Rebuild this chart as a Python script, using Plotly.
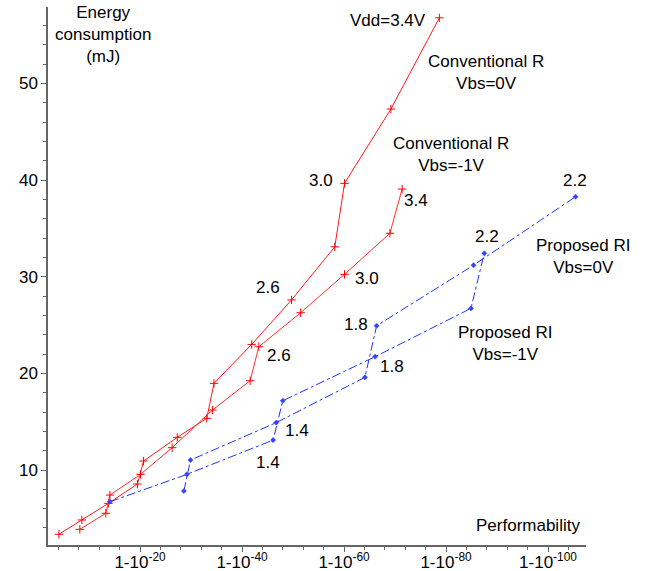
import plotly.graph_objects as go

# x = magnitude of exponent n in performability 1-10^-n ; y = energy (mJ)
conv0_x = [4.1, 8.6, 13.8, 19.5, 20.7, 27.3, 33.1, 34.5, 41.9, 49.7, 58.2, 60.1, 69.2, 78.7]
conv0_y = [3.35, 4.83, 6.55, 8.55, 10.93, 13.38, 15.35, 18.97, 23.0, 27.6, 33.1, 39.67, 47.36, 56.8]

conv1_x = [8.2, 13.3, 14.1, 20.1, 26.3, 34.2, 41.6, 43.3, 51.5, 60.1, 69.0, 71.4]
conv1_y = [3.86, 5.52, 7.41, 9.55, 12.31, 16.21, 19.24, 22.76, 26.28, 30.25, 34.5, 39.08]

prop0_x = [28.6, 29.9, 46.7, 64.1, 66.4, 85.4, 105.4]
prop0_y = [7.83, 11.03, 14.9, 19.59, 24.93, 31.2, 38.28]

prop1_x = [14.1, 29.2, 46.1, 48.0, 66.1, 84.9, 87.5]
prop1_y = [6.72, 9.55, 13.1, 17.17, 21.73, 26.73, 32.43]

x_tickvals = [20, 40, 60, 80, 100]
x_ticktext = ["1-10<sup>-20</sup>", "1-10<sup>-40</sup>", "1-10<sup>-60</sup>",
              "1-10<sup>-80</sup>", "1-10<sup>-100</sup>"]
y_tickvals = [10, 20, 30, 40, 50]

FONT = "Liberation Sans, Arial, Helvetica, sans-serif"
fig = go.Figure()

red_marker = dict(symbol="cross-thin", size=6, color="red", line=dict(color="red", width=1))
blue_marker = dict(symbol="diamond", size=4, color="#3344ff", line=dict(color="#3344ff", width=0.5))

fig.add_trace(go.Scatter(x=conv0_x, y=conv0_y, mode="lines+markers",
                         line=dict(color="#ff1a1a", width=1), marker=red_marker))
fig.add_trace(go.Scatter(x=conv1_x, y=conv1_y, mode="lines+markers",
                         line=dict(color="#ff3030", width=1), marker=red_marker))
fig.add_trace(go.Scatter(x=prop0_x, y=prop0_y, mode="lines+markers",
                         line=dict(color="#2233ff", width=1, dash="dashdot"), marker=blue_marker))
fig.add_trace(go.Scatter(x=prop1_x, y=prop1_y, mode="lines+markers",
                         line=dict(color="#2233ff", width=1, dash="dashdot"), marker=blue_marker))

labels = [
    ("Energy<br>consumption<br>(mJ)", 12.75, 55.1, "center"),
    ("Vdd=3.4V", 76.5, 56.57, "right"),
    ("Conventional R<br>Vbs=0V", 87.8, 51.14, "center"),
    ("Conventional R<br>Vbs=-1V", 81.0, 42.7, "center"),
    ("Proposed RI<br>Vbs=0V", 106.9, 32.15, "center"),
    ("Proposed RI<br>Vbs=-1V", 91.6, 23.09, "center"),
    ("Performability", 96.1, 4.31, "center"),
    ("3.0", 55.4, 40.0, "center"),
    ("2.6", 45.1, 28.84, "center"),
    ("3.0", 64.5, 29.87, "center"),
    ("2.6", 47.3, 21.9, "center"),
    ("3.4", 74.1, 37.94, "center"),
    ("2.2", 105.3, 40.0, "center"),
    ("2.2", 88.0, 34.22, "center"),
    ("1.8", 62.4, 25.1, "center"),
    ("1.8", 69.4, 20.76, "center"),
    ("1.4", 50.8, 14.14, "center"),
    ("1.4", 45.1, 10.83, "center"),
]
for text, ax, ay, anch in labels:
    fig.add_annotation(x=ax, y=ay, xref="x", yref="y", text=text, showarrow=False,
                       xanchor=anch, yanchor="middle",
                       font=dict(family=FONT, size=17, color="black"))

axis_color = "#666666"
fig.update_xaxes(range=[1.96, 107.45], showgrid=False, zeroline=False, automargin=False,
                 showline=True, linecolor=axis_color, linewidth=1.5,
                 ticks="outside", ticklen=5, tickcolor=axis_color, tickwidth=1,
                 ticklabelstandoff=-4,
                 tickvals=x_tickvals, ticktext=x_ticktext,
                 tickfont=dict(family=FONT, size=17, color="black"),
                 minor=dict(dtick=4, tick0=0, ticks="outside", ticklen=3, tickcolor=axis_color))
fig.update_yaxes(range=[2.24, 57.92], showgrid=False, zeroline=False, automargin=False,
                 showline=True, linecolor=axis_color, linewidth=1.5,
                 ticks="outside", ticklen=5, tickcolor=axis_color, tickwidth=1,
                 tickvals=y_tickvals,
                 tickfont=dict(family=FONT, size=17, color="black"),
                 minor=dict(dtick=2, tick0=0, ticks="outside", ticklen=3, tickcolor=axis_color))

fig.update_layout(width=655, height=571, showlegend=False,
                  paper_bgcolor="white", plot_bgcolor="white",
                  margin=dict(l=48, r=69, t=7, b=26),
                  font=dict(family=FONT, size=17))

fig.write_html("out.html")
